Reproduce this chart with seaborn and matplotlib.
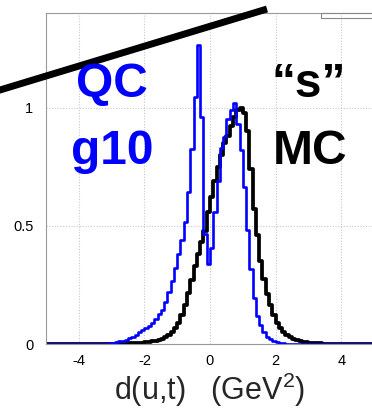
import numpy as np
import pandas as pd
import matplotlib
matplotlib.use("Agg")
import matplotlib.pyplot as plt
from matplotlib.lines import Line2D
from matplotlib.patches import Rectangle
import seaborn as sns

# ---- data (bin contents, 100 bins of width 0.1 from -5 to 5) ----
bin_lo = -5.0
bin_hi = 5.0
n_bins = 100

qc_g10 = [0]*17 + [
    0.001, 0.002, 0.004, 0.006, 0.008, 0.011, 0.014, 0.018, 0.024, 0.030,
    0.040, 0.052, 0.058, 0.068, 0.078, 0.088, 0.105, 0.125, 0.142, 0.178,
    0.222, 0.268, 0.320, 0.380, 0.440, 0.516, 0.645, 0.826, 1.046, 1.266,
    0.962, 0.467, 0.340, 0.405, 0.558, 0.690, 0.827, 0.875, 0.953, 0.990,
    1.020, 0.930, 0.820, 0.664, 0.481, 0.317, 0.195, 0.118, 0.080, 0.052,
    0.031, 0.020, 0.014, 0.009, 0.006, 0.004, 0.002, 0.001] + [0]*25

s_mc = [0]*20 + [
    0.001, 0.001, 0.001, 0.002, 0.002, 0.003, 0.003, 0.004, 0.005, 0.006,
    0.007, 0.009, 0.011, 0.014, 0.018, 0.022, 0.029, 0.038, 0.050, 0.066,
    0.090, 0.122, 0.165, 0.215, 0.270, 0.330, 0.380, 0.430, 0.480, 0.560,
    0.620, 0.690, 0.750, 0.800, 0.850, 0.880, 0.920, 0.960, 0.990, 1.000,
    0.975, 0.900, 0.740, 0.570, 0.460, 0.350, 0.275, 0.212, 0.163, 0.122,
    0.088, 0.066, 0.050, 0.040, 0.030, 0.023, 0.018, 0.013, 0.010, 0.008,
    0.006, 0.005, 0.004, 0.003, 0.002, 0.002, 0.001, 0.001] + [0]*12

x_ticks = [-4, -2, 0, 2, 4]
y_ticks = [0, 0.5, 1]
y_tick_labels = ["0", "0.5", "1"]

edges = np.linspace(bin_lo, bin_hi, n_bins + 1)
centers = 0.5 * (edges[:-1] + edges[1:])
df_qc = pd.DataFrame({"x": centers, "w": qc_g10})
df_mc = pd.DataFrame({"x": centers, "w": s_mc})

# ---- style ----
sns.set_theme(style="white")
plt.rcParams["font.family"] = ["Liberation Sans", "DejaVu Sans"]
plt.rcParams["mathtext.fontset"] = "custom"
plt.rcParams["mathtext.rm"] = "Liberation Sans"
plt.rcParams["mathtext.it"] = "Liberation Sans"

W, H = 372, 408
fig = plt.figure(figsize=(W / 100, H / 100), dpi=100)
ax = fig.add_axes([46 / W, 64 / H, 328 / W, 331 / H])

sns.histplot(data=df_mc, x="x", weights="w", bins=n_bins,
             binrange=(bin_lo, bin_hi), element="step",
             fill=False, color="black", linewidth=2.7, ax=ax)
sns.histplot(data=df_qc, x="x", weights="w", bins=n_bins,
             binrange=(bin_lo, bin_hi), element="step",
             fill=False, color="#0000ff", linewidth=1.9, ax=ax)

ax.set_xlim(-5, 5)
ax.set_ylim(0, 1.4)
ax.set_xticks(x_ticks)
ax.set_xticklabels([str(t) for t in x_ticks])
ax.set_yticks(y_ticks)
ax.set_yticklabels(y_tick_labels)
ax.set_xlabel("")
ax.set_ylabel("")
ax.grid(True, color="#c8c8c8", linestyle=(0, (1, 1.5)), linewidth=0.8)
for s in ax.spines.values():
    s.set_color("#999999")
    s.set_linewidth(0.8)
ax.tick_params(axis="both", labelsize=10.5, colors="black", length=0, pad=7)
ax.tick_params(axis="y", pad=9)

# ---- annotations ----
def fx(px):
    return px / W

def fy(py):
    return 1 - py / H

fig.text(fx(210), fy(400), "d(u,t)   (GeV$^2$)", ha="center", va="baseline",
         fontsize=22)
fig.text(fx(112), fy(97), "QC", ha="center", va="baseline", fontsize=34.5,
         fontweight="bold", color="#0000ff")
fig.text(fx(112), fy(164), "g10", ha="center", va="baseline", fontsize=34.5,
         fontweight="bold", color="#0000ff")
fig.text(fx(309), fy(97), "\u201cs\u201d", ha="center", va="baseline",
         fontsize=34.5, fontweight="bold", color="black")
fig.text(fx(310), fy(164), "MC", ha="center", va="baseline", fontsize=34.5,
         fontweight="bold", color="black")

fig.add_artist(Line2D([fx(-5), fx(267)], [fy(91.5), fy(9)],
                      transform=fig.transFigure, color="black", linewidth=5,
                      solid_capstyle="butt"))
fig.add_artist(Rectangle((fx(321), fy(18)), fx(60), 5 / H,
                         transform=fig.transFigure, fill=False,
                         edgecolor="#888888", linewidth=0.8))

fig.savefig("out.png", dpi=100)
